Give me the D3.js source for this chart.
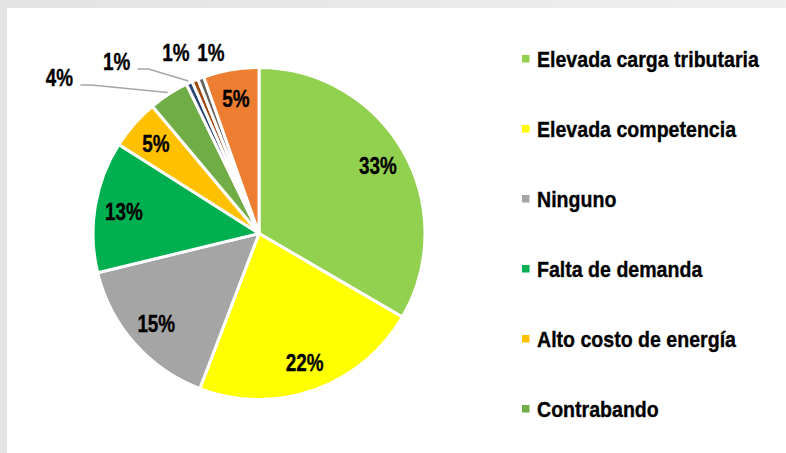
<!DOCTYPE html>
<html>
<head>
<meta charset="utf-8">
<script src="https://cdn.jsdelivr.net/npm/d3@7"></script>
<style>
  html, body { margin: 0; padding: 0; }
  body { width: 786px; height: 453px; overflow: hidden; }
  text { font-family: "Liberation Sans", Arial, sans-serif; font-weight: bold; fill: #000; stroke: #000; stroke-width: 0.35px; }
</style>
</head>
<body>
<svg id="chart" width="786" height="453"></svg>
<script>
// ---- Data ----
const categories = [
  "Elevada carga tributaria",
  "Elevada competencia",
  "Ninguno",
  "Falta de demanda",
  "Alto costo de energía",
  "Contrabando",
  "Otro (a)",
  "Otro (b)",
  "Otro (c)",
  "Otro (d)"
];
const values = [33.4, 22.4, 15.4, 12.8, 4.9, 3.9, 0.6, 0.6, 0.6, 5.4];
const colors = ["#92D050", "#FFFF00", "#A5A5A5", "#00B050", "#FFC000",
                "#70AD47", "#264478", "#9E480E", "#636363", "#ED7D31"];
const legendShown = 6; // legend is truncated after the sixth entry

// ---- Layout ----
const W = 786, H = 453;
const cx = 259, cy = 233.5, R = 166;
const svg = d3.select("#chart");

// background: grey textured frame with white panel
const defs = svg.append("defs");
const grad = defs.append("linearGradient").attr("id", "bg").attr("x1", 0).attr("x2", 1).attr("y1", 0).attr("y2", 0);
grad.append("stop").attr("offset", "0%").attr("stop-color", "#e3e3e3");
grad.append("stop").attr("offset", "100%").attr("stop-color", "#efefef");
svg.append("rect").attr("width", W).attr("height", H).attr("fill", "url(#bg)");
svg.append("rect").attr("x", 7).attr("y", 8).attr("width", W - 7).attr("height", H - 8).attr("fill", "#fff");

const total = d3.sum(values);
const data = categories.map((c, i) => ({ name: c, value: values[i], color: colors[i], i }));
const pie = d3.pie().sort(null).value(d => d.value);
const arcs = pie(data);
const arc = d3.arc().innerRadius(0).outerRadius(R);
const labelArc = d3.arc().innerRadius(137).outerRadius(137);
const edgeArc = d3.arc().innerRadius(R + 2).outerRadius(R + 2);

const g = svg.append("g").attr("transform", `translate(${cx},${cy})`);
g.selectAll("path.slice").data(arcs).join("path")
  .attr("class", "slice")
  .attr("d", arc)
  .attr("fill", d => d.data.color)
  .attr("stroke", "#fff")
  .attr("stroke-width", 3)
  .attr("stroke-linejoin", "miter");

const pct = d => Math.round(d.data.value / total * 100) + "%";

// inside labels (larger slices)
const insideIdx = [0, 1, 2, 3, 4, 9];
g.selectAll("text.in").data(arcs.filter(d => insideIdx.includes(d.data.i))).join("text")
  .attr("class", "in")
  .attr("transform", d => { const [x, y] = labelArc.centroid(d); return `translate(${x},${y}) scale(0.82,1)`; })
  .attr("text-anchor", "middle")
  .attr("dy", "0.36em")
  .style("font-size", "23px")
  .text(pct);

// outside labels: polar placement (angle in degrees clockwise from top, radius)
const outsidePlacement = { 5: [307.9, 253, true], 6: [320.3, 223, true], 7: [335.3, 199, false], 8: [345.1, 187, false] };
const outs = arcs.filter(d => outsidePlacement[d.data.i]);
outs.forEach(d => {
  const [deg, r, leader] = outsidePlacement[d.data.i];
  const a = deg * Math.PI / 180;
  const lx = r * Math.sin(a), ly = -r * Math.cos(a);
  g.append("text")
    .attr("transform", `translate(${lx},${ly}) scale(0.82,1)`)
    .attr("text-anchor", "middle")
    .attr("dy", "0.36em")
    .style("font-size", "23px")
    .text(pct(d));
  if (leader) {
    const [ex, ey] = edgeArc.centroid(d);
    const sx = lx + 21, sy = ly + 7;
    g.append("path")
      .attr("d", d3.line()([[sx, sy], [sx + 11, sy], [ex, ey]]))
      .attr("fill", "none")
      .attr("stroke", "#A6A6A6")
      .attr("stroke-width", 1.5);
  }
});

// legend
const ly = d3.scaleLinear().domain([0, 1]).range([67, 137]);
const leg = svg.append("g");
const items = leg.selectAll("g").data(data.slice(0, legendShown)).join("g")
  .attr("transform", (d, i) => `translate(522,${ly(i)})`);
items.append("rect").attr("x", 0).attr("y", -12).attr("width", 7.5).attr("height", 7.5).attr("fill", d => d.color);
items.append("text")
  .attr("transform", "translate(15,0) scale(0.89,1)")
  .style("font-size", "22px")
  .text(d => d.name);
</script>
</body>
</html>
